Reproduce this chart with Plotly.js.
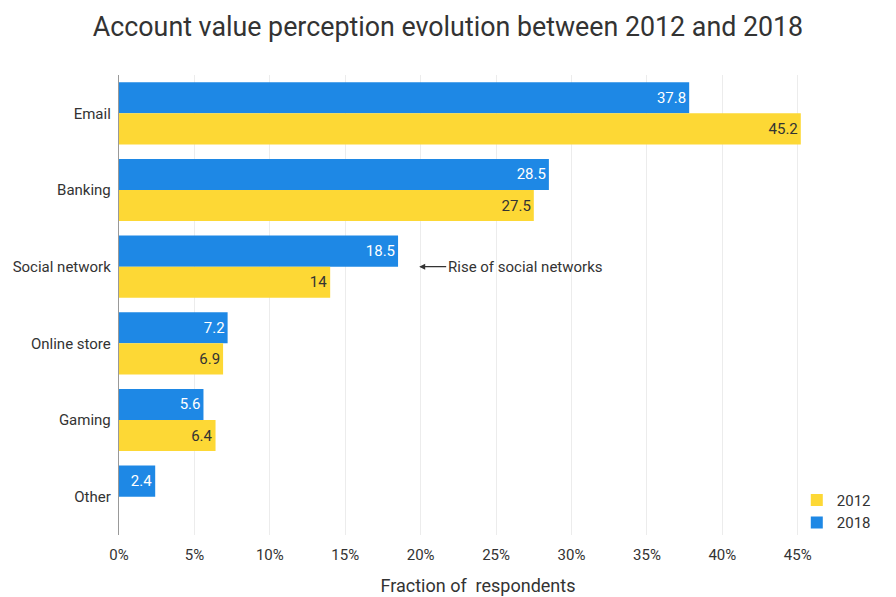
<!DOCTYPE html>
<html>
<head>
<meta charset="utf-8">
<script src="https://cdn.plot.ly/plotly-3.0.1.min.js"></script>
<style>
  html, body { margin: 0; padding: 0; background: #fff; }
  #chart { width: 896px; height: 597px; }
</style>
</head>
<body>
<div id="chart"></div>
<script>
// Share of respondents (%) valuing each account type
const categories = ['Email', 'Banking', 'Social network', 'Online store', 'Gaming', 'Other'];
const values2012 = [45.2, 27.5, 14, 6.9, 6.4, null];
const values2018 = [37.8, 28.5, 18.5, 7.2, 5.6, 2.4];
const xTicks = [0, 5, 10, 15, 20, 25, 30, 35, 40, 45];
const xTickText = xTicks.map(t => t + '%');

const FONT = 'Roboto, "Open Sans", sans-serif';

const label = v => (v == null ? '' : String(v));

const traces = [
  // y axis is reversed, so the first trace ends up on top of each group
  {
    type: 'bar',
    orientation: 'h',
    name: '2018',
    y: categories,
    x: values2018,
    marker: { color: '#1e88e5' },
    text: values2018.map(label),
    textposition: 'inside',
    insidetextanchor: 'end',
    textfont: { family: FONT, size: 15, color: '#ffffff' },
    hoverinfo: 'x+y',
  },
  {
    type: 'bar',
    orientation: 'h',
    name: '2012',
    y: categories,
    x: values2012,
    marker: { color: '#fdd835' },
    text: values2012.map(label),
    textposition: 'inside',
    insidetextanchor: 'end',
    textfont: { family: FONT, size: 15, color: '#333333' },
    hoverinfo: 'x+y',
  },
];

const layout = {
  width: 896,
  height: 597,
  paper_bgcolor: '#ffffff',
  plot_bgcolor: '#ffffff',
  font: { family: FONT, color: '#333333', size: 15 },
  margin: { t: 75, r: 59, b: 62, l: 119 },
  barmode: 'group',
  bargap: 0.19,
  bargroupgap: 0,
  title: {
    text: 'Account value perception evolution between 2012 and 2018',
    font: { family: FONT, size: 26.8, color: '#333333' },
    x: 0.5,
    xanchor: 'center',
    y: 0.955,
    yanchor: 'middle',
  },
  xaxis: {
    range: [0, 47.6],
    tickmode: 'array',
    tickvals: xTicks,
    ticktext: xTickText,
    showgrid: true,
    gridcolor: '#ececec',
    zeroline: false,
    showline: false,
    ticks: 'outside',
    ticklen: 6,
    tickcolor: 'rgba(0,0,0,0)',
    tickfont: { family: FONT, size: 15, color: '#333333' },
    title: {
      text: 'Fraction of  respondents',
      font: { family: FONT, size: 18, color: '#333333' },
      standoff: 16,
    },
    fixedrange: true,
  },
  yaxis: {
    autorange: 'reversed',
    showgrid: false,
    showline: true,
    linecolor: '#999999',
    linewidth: 1.5,
    ticks: '',
    ticksuffix: ' ',
    tickfont: { family: FONT, size: 15, color: '#333333' },
    fixedrange: true,
  },
  legend: {
    x: 0.944,
    xanchor: 'left',
    y: -0.008,
    yanchor: 'bottom',
    traceorder: 'reversed',
    tracegroupgap: 0,
    font: { family: FONT, size: 15, color: '#333333' },
    bgcolor: 'rgba(0,0,0,0)',
  },
  annotations: [
    {
      x: 19.9,
      y: 'Social network',
      xref: 'x',
      yref: 'y',
      text: 'Rise of social networks',
      showarrow: true,
      arrowhead: 2,
      arrowsize: 1,
      arrowwidth: 1.2,
      arrowcolor: '#333333',
      ax: 106,
      ay: 0,
      font: { family: FONT, size: 15, color: '#333333' },
    },
  ],
};

Plotly.newPlot('chart', traces, layout, { displayModeBar: false, staticPlot: true });
</script>
</body>
</html>
